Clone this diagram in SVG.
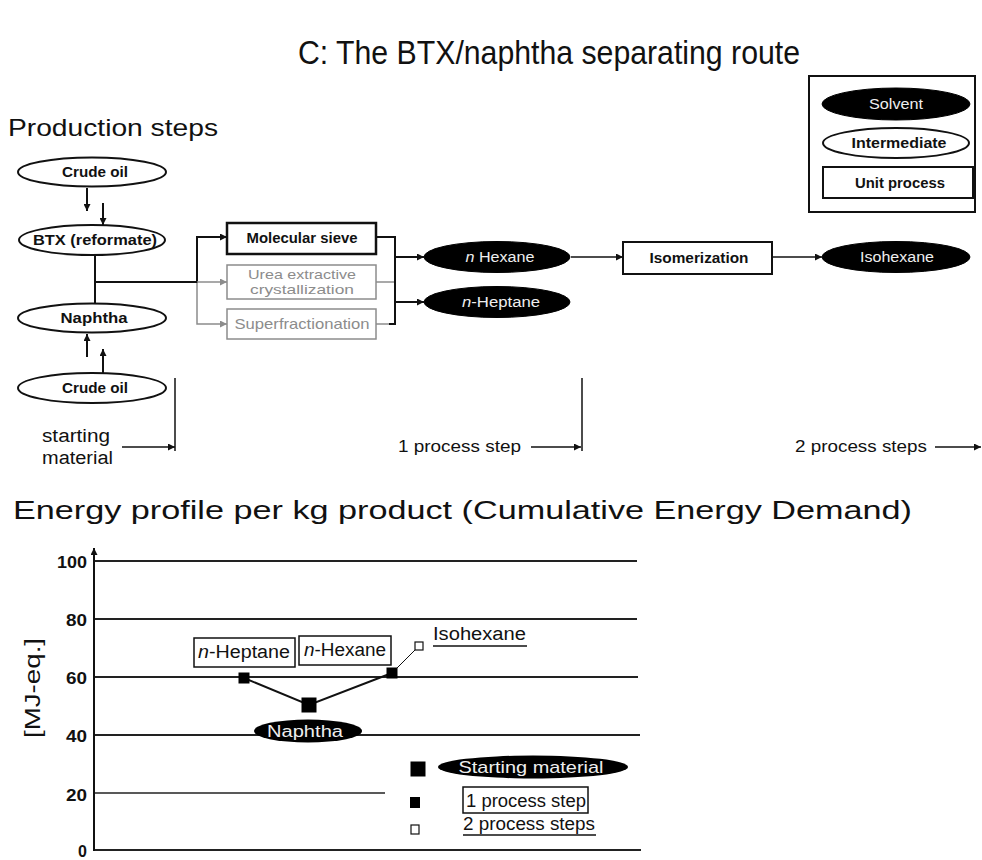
<svg xmlns="http://www.w3.org/2000/svg" width="982" height="860" viewBox="0 0 982 860">
<defs>
<style>
text{font-family:"Liberation Sans",Arial,sans-serif;fill:#111}
.lbl{font-size:15px;font-weight:bold;text-anchor:middle}
.wht{font-size:14px;fill:#eee;text-anchor:middle}
.gry{font-size:15px;fill:#8c8c8c;text-anchor:middle}
.inter{fill:#fff;stroke:#111;stroke-width:2}
.solv{fill:#000;stroke:#000;stroke-width:1}
.unit{fill:#fff;stroke:#111;stroke-width:2}
.ln{fill:none;stroke:#111;stroke-width:2}
.lg{fill:none;stroke:#8c8c8c;stroke-width:1.5}
.grid{stroke:#222;stroke-width:2}
.tick{font-size:16px;font-weight:bold;text-anchor:end}
.ch{font-size:18px}
</style>
<marker id="ah" viewBox="0 0 10 10" refX="10" refY="5" markerWidth="8" markerHeight="7" markerUnits="userSpaceOnUse" orient="auto"><path d="M0,0 L10,5 L0,10 z" fill="#111"/></marker>
<marker id="ahg" viewBox="0 0 10 10" refX="10" refY="5" markerWidth="8" markerHeight="7" markerUnits="userSpaceOnUse" orient="auto"><path d="M0,0 L10,5 L0,10 z" fill="#8c8c8c"/></marker>
</defs>
<rect width="982" height="860" fill="#fff"/>

<text x="298" y="64" style="font-size:34px" textLength="502" lengthAdjust="spacingAndGlyphs">C: The BTX/naphtha separating route</text>
<text x="8" y="136" style="font-size:24px" textLength="210" lengthAdjust="spacingAndGlyphs">Production steps</text>

<g id="legend">
<rect x="809" y="76" width="166" height="136" fill="none" stroke="#111" stroke-width="2"/>
<ellipse cx="896" cy="104" rx="74" ry="16" class="solv"/>
<text x="896" y="109" class="wht" textLength="54" lengthAdjust="spacingAndGlyphs">Solvent</text>
<ellipse cx="896" cy="143" rx="73" ry="15" class="inter"/>
<text x="899" y="148" class="lbl" textLength="95" lengthAdjust="spacingAndGlyphs">Intermediate</text>
<rect x="823" y="167" width="150" height="31" class="unit"/>
<text x="900" y="188" class="lbl" textLength="90" lengthAdjust="spacingAndGlyphs">Unit process</text>
</g>

<g id="crude_top">
<ellipse cx="92" cy="172" rx="74" ry="14.5" class="inter"/>
<text x="95" y="177" class="lbl" textLength="66" lengthAdjust="spacingAndGlyphs">Crude oil</text>
</g>
<g id="btx">
<ellipse cx="92" cy="240" rx="73" ry="15" class="inter"/>
<text x="95" y="245" class="lbl" textLength="124" lengthAdjust="spacingAndGlyphs">BTX (reformate)</text>
</g>
<g id="naphtha">
<ellipse cx="92" cy="318" rx="74" ry="14.5" class="inter"/>
<text x="94" y="323" class="lbl" textLength="67" lengthAdjust="spacingAndGlyphs">Naphtha</text>
</g>
<g id="crude_bottom">
<ellipse cx="92" cy="388" rx="74" ry="15" class="inter"/>
<text x="95" y="393" class="lbl" textLength="66" lengthAdjust="spacingAndGlyphs">Crude oil</text>
</g>
<g id="molsieve">
<rect x="227" y="223" width="149" height="31" fill="#fff" stroke="#111" stroke-width="2.5"/>
<text x="302" y="243" class="lbl" textLength="111" lengthAdjust="spacingAndGlyphs">Molecular sieve</text>
</g>
<g id="urea">
<rect x="227" y="265" width="149" height="34" fill="#fff" stroke="#8c8c8c" stroke-width="1.5"/>
<text x="302" y="279" class="gry" style="font-size:13px" textLength="108" lengthAdjust="spacingAndGlyphs">Urea extractive</text>
<text x="302" y="294" class="gry" style="font-size:13px" textLength="104" lengthAdjust="spacingAndGlyphs">crystallization</text>
</g>
<g id="superfrac">
<rect x="227" y="309" width="149" height="30" fill="#fff" stroke="#8c8c8c" stroke-width="1.5"/>
<text x="302" y="329" class="gry" textLength="135" lengthAdjust="spacingAndGlyphs">Superfractionation</text>
</g>
<g id="nhexane">
<ellipse cx="497" cy="257" rx="73" ry="15.5" class="solv"/>
<text x="500" y="262" class="wht" textLength="69" lengthAdjust="spacingAndGlyphs"><tspan font-style="italic">n</tspan> Hexane</text>
</g>
<g id="nheptane">
<ellipse cx="497" cy="302" rx="73" ry="15.5" class="solv"/>
<text x="501" y="307" class="wht" textLength="78" lengthAdjust="spacingAndGlyphs"><tspan font-style="italic">n</tspan>-Heptane</text>
</g>
<g id="isomerization">
<rect x="623" y="242" width="149" height="32" class="unit"/>
<text x="699" y="263" class="lbl" style="font-weight:600" textLength="99" lengthAdjust="spacingAndGlyphs">Isomerization</text>
</g>
<g id="isohexane">
<ellipse cx="896" cy="257" rx="74" ry="15.5" class="solv"/>
<text x="897" y="262" class="wht" textLength="74" lengthAdjust="spacingAndGlyphs">Isohexane</text>
</g>

<g id="connectors">
<line x1="87" y1="188" x2="87" y2="211" class="ln" marker-end="url(#ah)"/>
<line x1="103" y1="203" x2="103" y2="225" class="ln" marker-end="url(#ah)"/>
<line x1="95" y1="255" x2="95" y2="304" class="ln"/>
<polyline points="95,282 197,282 197,237 227,237" class="ln" marker-end="url(#ah)"/>
<line x1="197" y1="282" x2="227" y2="282" class="lg" marker-end="url(#ahg)"/>
<polyline points="197,283 197,324 227,324" class="lg" marker-end="url(#ahg)"/>
<line x1="376" y1="282" x2="395" y2="282" class="lg"/>
<line x1="376" y1="324" x2="395" y2="324" class="lg"/>
<polyline points="376,237 395,237 395,324 389,324" class="ln"/>
<line x1="395" y1="257" x2="424" y2="257" class="ln" marker-end="url(#ah)"/>
<line x1="395" y1="302" x2="424" y2="302" class="ln" marker-end="url(#ah)"/>
<line x1="87" y1="357" x2="87" y2="334" class="ln" marker-end="url(#ah)"/>
<line x1="103" y1="373" x2="103" y2="349" class="ln" marker-end="url(#ah)"/>
<line x1="571" y1="257" x2="623" y2="257" class="ln" style="stroke-width:1.5" marker-end="url(#ah)"/>
<line x1="772" y1="257" x2="822" y2="257" class="ln" style="stroke-width:1.5" marker-end="url(#ah)"/>
<line x1="175" y1="378" x2="175" y2="451" class="ln" style="stroke-width:1.5"/>
<line x1="122" y1="447" x2="175" y2="447" class="ln" style="stroke-width:1.5" marker-end="url(#ah)"/>
<line x1="582" y1="378" x2="582" y2="451" class="ln" style="stroke-width:1.5"/>
<line x1="531" y1="447" x2="581" y2="447" class="ln" style="stroke-width:1.5" marker-end="url(#ah)"/>
<line x1="935" y1="447" x2="981" y2="447" class="ln" style="stroke-width:1.5" marker-end="url(#ah)"/>
</g>

<text x="42" y="442" style="font-size:18px" textLength="68" lengthAdjust="spacingAndGlyphs">starting</text>
<text x="42" y="464" style="font-size:18px" textLength="71" lengthAdjust="spacingAndGlyphs">material</text>
<text x="398" y="452" style="font-size:17px" textLength="123" lengthAdjust="spacingAndGlyphs">1 process step</text>
<text x="795" y="452" style="font-size:17px" textLength="132" lengthAdjust="spacingAndGlyphs">2 process steps</text>

<text x="13" y="519" style="font-size:26px" textLength="899" lengthAdjust="spacingAndGlyphs">Energy profile per kg product (Cumulative Energy Demand)</text>

<g id="chart">
<line x1="94" y1="561" x2="637" y2="561" class="grid"/>
<line x1="94" y1="619" x2="637" y2="619" class="grid"/>
<line x1="94" y1="677" x2="638" y2="677" class="grid"/>
<line x1="94" y1="735" x2="640" y2="735" class="grid"/>
<line x1="94" y1="793" x2="385" y2="793" stroke="#222" stroke-width="1.3"/>
<line x1="94" y1="850" x2="641" y2="850" class="grid"/>
<line x1="94" y1="851" x2="94" y2="548" class="ln" marker-end="url(#ah)"/>
<text x="87" y="568" class="tick" textLength="30" lengthAdjust="spacingAndGlyphs">100</text>
<text x="87" y="626" class="tick" textLength="21" lengthAdjust="spacingAndGlyphs">80</text>
<text x="87" y="684" class="tick" textLength="21" lengthAdjust="spacingAndGlyphs">60</text>
<text x="87" y="742" class="tick" textLength="21" lengthAdjust="spacingAndGlyphs">40</text>
<text x="87" y="801" class="tick" textLength="21" lengthAdjust="spacingAndGlyphs">20</text>
<text x="87" y="857" class="tick">0</text>
<text transform="translate(40,688) rotate(-90)" style="font-size:22px;text-anchor:middle" textLength="100" lengthAdjust="spacingAndGlyphs">[MJ-eq.]</text>

<g id="chart_heptane">
<rect x="194" y="638" width="101" height="29" fill="#fff" stroke="#111" stroke-width="1.5"/>
<text x="198" y="658" class="ch" textLength="92" lengthAdjust="spacingAndGlyphs"><tspan font-style="italic">n</tspan>-Heptane</text>
</g>
<g id="chart_hexane">
<rect x="299" y="636" width="92" height="29" fill="#fff" stroke="#111" stroke-width="1.5"/>
<text x="304" y="656" class="ch" textLength="82" lengthAdjust="spacingAndGlyphs"><tspan font-style="italic">n</tspan>-Hexane</text>
</g>
<g id="chart_isohexane">
<text x="433" y="640" class="ch" textLength="93" lengthAdjust="spacingAndGlyphs">Isohexane</text>
<line x1="433" y1="646" x2="527" y2="646" stroke="#111" stroke-width="1.5"/>
</g>
<g id="chart_naphtha">
<ellipse cx="308" cy="731" rx="54" ry="11.5" fill="#000"/>
<text x="305" y="737" style="font-size:16px;fill:#eee;text-anchor:middle" textLength="76" lengthAdjust="spacingAndGlyphs">Naphtha</text>
</g>
<polyline points="244,678 309,705 392,673" fill="none" stroke="#111" stroke-width="2"/>
<line x1="392" y1="673" x2="419" y2="646" stroke="#111" stroke-width="1"/>
<rect x="238.5" y="672.5" width="11" height="11" fill="#000"/>
<rect x="301.5" y="697.5" width="15" height="15" fill="#000"/>
<rect x="386.5" y="667.5" width="11" height="11" fill="#000"/>
<rect x="415" y="642" width="8" height="8" fill="#fff" stroke="#111" stroke-width="1.2"/>

<g id="chart_legend">
<rect x="410.5" y="761.5" width="15" height="15" fill="#000"/>
<ellipse cx="533" cy="767" rx="95" ry="11.5" fill="#000"/>
<text x="531" y="773" style="font-size:17px;fill:#eee;text-anchor:middle" textLength="145" lengthAdjust="spacingAndGlyphs">Starting material</text>
<rect x="410" y="797" width="10" height="11" fill="#000"/>
<rect x="463" y="787" width="125" height="26" fill="#fff" stroke="#111" stroke-width="1.5"/>
<text x="466" y="807" class="ch" textLength="120" lengthAdjust="spacingAndGlyphs">1 process step</text>
<rect x="411" y="825" width="8" height="9" fill="#fff" stroke="#111" stroke-width="1.2"/>
<text x="463" y="830" class="ch" textLength="132" lengthAdjust="spacingAndGlyphs">2 process steps</text>
<line x1="463" y1="835" x2="596" y2="835" stroke="#111" stroke-width="1.5"/>
</g>
</g>
</svg>
